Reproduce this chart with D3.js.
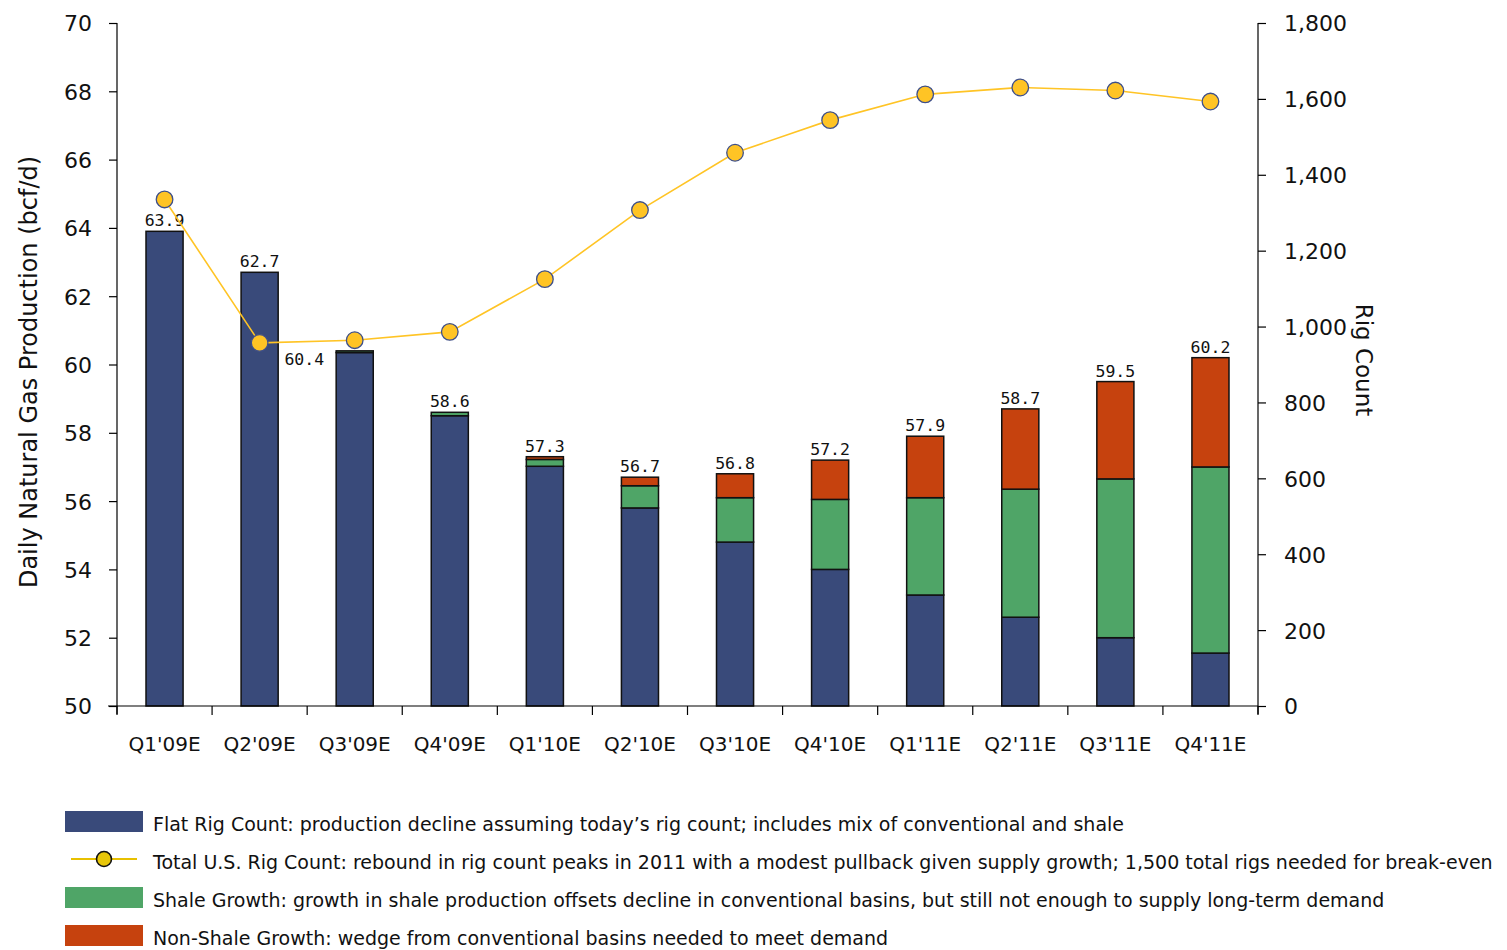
<!DOCTYPE html>
<html>
<head>
<meta charset="utf-8">
<script src="https://cdn.jsdelivr.net/npm/d3@7"></script>
<style>
  html, body { margin: 0; padding: 0; background: #fff; }
  svg { display: block; }
  text { font-family: "DejaVu Sans", Verdana, sans-serif; fill: #111; }
</style>
</head>
<body>
<svg id="chart" width="1507" height="950"></svg>
<script>
// Quarterly production outlook (bcf/d) and total U.S. rig count
const quarters = ["Q1'09E","Q2'09E","Q3'09E","Q4'09E","Q1'10E","Q2'10E","Q3'10E","Q4'10E","Q1'11E","Q2'11E","Q3'11E","Q4'11E"];
const flatRig     = [63.9, 62.7, 60.35, 58.5, 57.02, 55.8, 54.8, 54.0, 53.25, 52.6, 52.0, 51.55];
const shaleGrowth = [0.0, 0.0, 0.05, 0.1, 0.2, 0.65, 1.3, 2.05, 2.85, 3.75, 4.65, 5.45];
const nonShale    = [0.0, 0.0, 0.0, 0.0, 0.08, 0.25, 0.7, 1.15, 1.8, 2.35, 2.85, 3.2];
const totals      = [63.9, 62.7, 60.4, 58.6, 57.3, 56.7, 56.8, 57.2, 57.9, 58.7, 59.5, 60.2];
const rigCount    = [1335, 957, 964, 986, 1125, 1307, 1458, 1544, 1612, 1630, 1622, 1593];

const leftTicks  = [50, 52, 54, 56, 58, 60, 62, 64, 66, 68, 70];
const rightTicks = [0, 200, 400, 600, 800, 1000, 1200, 1400, 1600, 1800];

const seriesKeys   = ["flat", "shale", "nonShale"];
const seriesColors = { flat: "#394A7A", shale: "#4FA567", nonShale: "#C6420E" };
const legendItems = [
  { type: "bar",  key: "flat",     text: "Flat Rig Count: production decline assuming today\u2019s rig count; includes mix of conventional and shale" },
  { type: "line", key: "rigs",     text: "Total U.S. Rig Count: rebound in rig count peaks in 2011 with a modest pullback given supply growth; 1,500 total rigs needed for break-even" },
  { type: "bar",  key: "shale",    text: "Shale Growth: growth in shale production offsets decline in conventional basins, but still not enough to supply long-term demand" },
  { type: "bar",  key: "nonShale", text: "Non-Shale Growth: wedge from conventional basins needed to meet demand" }
];

const rows = quarters.map((q, i) => ({
  q, flat: flatRig[i], shale: shaleGrowth[i], nonShale: nonShale[i], total: totals[i], rigs: rigCount[i]
}));

const svg = d3.select("#chart");
const plot = { left: 117, right: 1258, top: 23, bottom: 706 };

const x = d3.scaleBand().domain(quarters).range([plot.left, plot.right]).padding(0);
const y = d3.scaleLinear().domain([50, 70]).range([plot.bottom, plot.top]);
const yR = d3.scaleLinear().domain([0, 1800]).range([plot.bottom, plot.top]);
const barW = x.bandwidth() * 0.39;

// stacked bars, baseline at the axis minimum
const stack = d3.stack().keys(seriesKeys)
  .value((d, k) => k === "flat" ? d.flat - 50 : d[k]);
const layers = stack(rows);

const gBars = svg.append("g");
layers.forEach(layer => {
  gBars.selectAll(null)
    .data(layer.filter(s => s[1] - s[0] > 0))
    .join("rect")
    .attr("x", s => x(s.data.q) + (x.bandwidth() - barW) / 2)
    .attr("width", barW)
    .attr("y", s => y(50 + s[1]))
    .attr("height", s => y(50 + s[0]) - y(50 + s[1]))
    .attr("fill", seriesColors[layer.key])
    .attr("stroke", "#111")
    .attr("stroke-width", 1.5);
});

// total labels (the Q3'09E one sits beside its bar, clear of the rig marker)
svg.append("g").selectAll("text")
  .data(rows)
  .join("text")
  .attr("x", d => d.q === "Q3'09E" ? x(d.q) + (x.bandwidth() - barW) / 2 - 12 : x(d.q) + x.bandwidth() / 2)
  .attr("y", d => d.q === "Q3'09E" ? y(d.total) + 14 : y(d.total) - 5)
  .attr("text-anchor", d => d.q === "Q3'09E" ? "end" : "middle")
  .style("font-family", "'DejaVu Sans Mono', 'Liberation Mono', monospace")
  .style("font-size", "16.5px")
  .text(d => d.total.toFixed(1));

// left axis
const axL = svg.append("g").attr("transform", `translate(${plot.left},0)`)
  .call(d3.axisLeft(y).tickValues(leftTicks).tickSize(8).tickPadding(17).tickFormat(d3.format("d")));
axL.select(".domain").attr("d", `M0,${plot.top}V${plot.bottom + 8}`);
axL.selectAll("text").style("font-family", "'DejaVu Sans', Verdana, sans-serif").style("font-size", "22px").attr("dy", "0.36em");

// right axis
const axR = svg.append("g").attr("transform", `translate(${plot.right},0)`)
  .call(d3.axisRight(yR).tickValues(rightTicks).tickSize(8).tickPadding(18).tickFormat(d3.format(",")));
axR.select(".domain").attr("d", `M0,${plot.top}V${plot.bottom + 8}`);
axR.selectAll("text").style("font-family", "'DejaVu Sans', Verdana, sans-serif").style("font-size", "22px").attr("dy", "0.36em");

// bottom axis with ticks on the band edges
const gX = svg.append("g").attr("transform", `translate(0,${plot.bottom})`);
gX.append("line").attr("x1", plot.left - 9).attr("x2", plot.right).attr("stroke", "#000").attr("stroke-width", 1.2);
const edges = quarters.map(q => x(q)).concat([plot.right]);
gX.selectAll("line.edge").data(edges).join("line").attr("class", "edge")
  .attr("x1", d => d).attr("x2", d => d).attr("y1", 0).attr("y2", 9)
  .attr("stroke", "#000").attr("stroke-width", 1.2);
gX.selectAll("text").data(quarters).join("text")
  .attr("x", d => x(d) + x.bandwidth() / 2)
  .attr("y", 45)
  .attr("text-anchor", "middle")
  .style("font-size", "20px")
  .text(d => d);

svg.selectAll(".tick line").attr("stroke", "#000").attr("stroke-width", 1.2);
svg.selectAll(".domain").attr("stroke", "#000").attr("stroke-width", 1.2);

// axis titles
svg.append("text")
  .attr("transform", `translate(37,372) rotate(-90)`)
  .attr("text-anchor", "middle")
  .style("font-size", "24px")
  .text("Daily Natural Gas Production (bcf/d)");
svg.append("text")
  .attr("transform", `translate(1356,360) rotate(90)`)
  .attr("text-anchor", "middle")
  .style("font-size", "23px")
  .text("Rig Count");

// rig count line
const line = d3.line().x(d => x(d.q) + x.bandwidth() / 2).y(d => yR(d.rigs));
svg.append("path").datum(rows)
  .attr("d", line).attr("fill", "none").attr("stroke", "#FFC425").attr("stroke-width", 1.6);
svg.append("g").selectAll("circle").data(rows).join("circle")
  .attr("cx", d => x(d.q) + x.bandwidth() / 2)
  .attr("cy", d => yR(d.rigs))
  .attr("r", 8.3)
  .attr("fill", "#FFC425")
  .attr("stroke", "#3E4F8A")
  .attr("stroke-width", 1.3);

// legend
const lg = svg.append("g").attr("transform", "translate(65,821)");
legendItems.forEach((item, i) => {
  const g = lg.append("g").attr("transform", `translate(0,${i * 38})`);
  if (item.type === "bar") {
    g.append("rect").attr("x", 0).attr("y", -10).attr("width", 78).attr("height", 21)
      .attr("fill", seriesColors[item.key]);
  } else {
    g.append("line").attr("x1", 6).attr("x2", 72).attr("y1", 0).attr("y2", 0)
      .attr("stroke", "#E8C000").attr("stroke-width", 2);
    g.append("circle").attr("cx", 39).attr("cy", 0).attr("r", 7.5)
      .attr("fill", "#E8C70A").attr("stroke", "#111").attr("stroke-width", 1.6);
  }
  g.append("text").attr("x", 88).attr("y", 3).attr("dy", "0.35em")
    .style("font-size", "19px")
    .text(item.text);
});
</script>
</body>
</html>
